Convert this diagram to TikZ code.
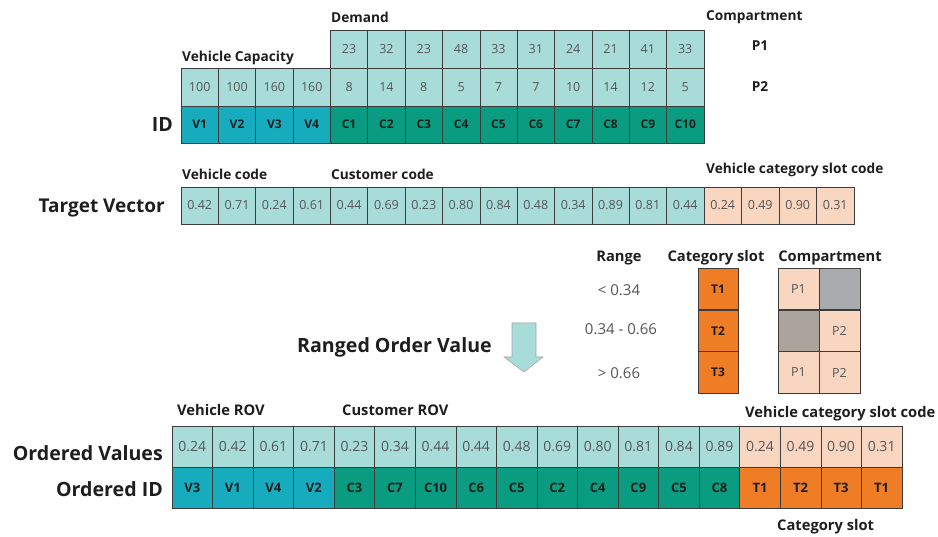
\documentclass[tikz,border=0pt]{standalone}
\usepackage{fontspec}
\setmainfont{Open Sans}
\usepackage{tikz}
\usetikzlibrary{positioning}
\definecolor{cellLight}{RGB}{168, 220, 216}
\definecolor{vehDark}{RGB}{22, 172, 190}
\definecolor{cusDark}{RGB}{10, 156, 128}
\definecolor{slotLight}{RGB}{249, 214, 192}
\definecolor{slotDark}{RGB}{238, 125, 38}
\definecolor{emptyA}{RGB}{168, 172, 175}
\definecolor{emptyB}{RGB}{170, 164, 157}
\definecolor{gridLine}{RGB}{60, 60, 60}
\definecolor{numText}{RGB}{85, 85, 85}
\definecolor{lblText}{RGB}{30, 30, 30}

\begin{document}
\begin{tikzpicture}[x=1pt, y=-1pt,
  cell/.style={draw=gridLine, line width=0.6pt, inner sep=0pt, minimum width=37.35pt,
    minimum height=37.7pt, text=numText, font=\fontsize{12.5}{14}\selectfont},
  idcell/.style={cell, text=lblText, font=\fontsize{12}{14}\selectfont\bfseries},
  bigcell/.style={cell, minimum width=40.55pt, minimum height=41pt, font=\fontsize{14}{16}\selectfont},
  bigid/.style={bigcell, text=lblText, font=\fontsize{13}{15}\selectfont\bfseries},
  lbl/.style={inner sep=0pt, text=lblText, font=\fontsize{13.7}{15}\selectfont\bfseries},
  lbllarge/.style={lbl, font=\fontsize{14.7}{16}\selectfont\bfseries},
  biglbl/.style={inner sep=0pt, text=lblText, font=\fontsize{19.6}{22}\selectfont\bfseries},
  rng/.style={inner sep=0pt, text=numText, font=\fontsize{15}{16}\selectfont}]
  \useasboundingbox (0,0) rectangle (938,537);

  % Input data
  \foreach \v [count=\i] in {100,100,160,160} {
    \node[cell, fill=cellLight] (cap\i) at ({181+37.35*(\i-0.5)}, 87) {\v};
    \node[idcell, fill=vehDark, minimum height=37pt] (vid\i) at ({181+37.35*(\i-0.5)}, 124.5) {V\i};
  }
  \foreach \a/\b [count=\i] in {23/8,32/14,23/8,48/5,33/7,31/7,24/10,21/14,41/12,33/5} {
    \node[cell, fill=cellLight] (dmA\i) at ({330.4+37.35*(\i-0.5)}, 49) {\a};
    \node[cell, fill=cellLight] (dmB\i) at ({330.4+37.35*(\i-0.5)}, 87) {\b};
    \node[idcell, fill=cusDark, minimum height=37pt] (cid\i) at ({330.4+37.35*(\i-0.5)}, 124.5) {C\i};
  }
  \node[lbl, anchor=west] (demand) at (331,17) {Demand};
  \node[lbl, anchor=west] (vcap) at (182,58) {Vehicle Capacity};
  \node[lbl, anchor=west] (comp) at (706,17) {Compartment};
  \node[lbl] (pone) at (760,46) {P1};
  \node[lbl] (ptwo) at (760,87) {P2};
  \node[biglbl, anchor=east] (idlbl) at (173,125) {ID};

  % Target vector
  \foreach \v [count=\i] in {0.42,0.71,0.24,0.61,0.44,0.69,0.23,0.80,0.84,0.48,0.34,0.89,0.81,0.44}
    \node[cell, fill=cellLight, minimum height=37pt] (tv\i) at ({181+37.35*(\i-0.5)}, 205.5) {\v};
  \foreach \v [count=\i] in {0.24,0.49,0.90,0.31}
    \node[cell, fill=slotLight, minimum width=37.5pt, minimum height=37pt] (ts\i) at ({704+37.5*(\i-0.5)}, 205.5) {\v};
  \node[lbl, anchor=west] (vcode) at (182,174) {Vehicle code};
  \node[lbl, anchor=west] (ccode) at (331,174) {Customer code};
  \node[lbl, anchor=west] (scode) at (706,170) {Vehicle category slot code};
  \node[biglbl, anchor=east, font=\fontsize{19}{22}\selectfont\bfseries] (tvlbl) at (165,208) {Target Vector};

  % Range table
  \node[lbllarge] (rhead) at (619,258) {Range};
  \node[lbllarge] (shead) at (716,258) {Category slot};
  \node[lbllarge] (chead) at (830,258) {Compartment};
  \node[rng] (rA) at (619,290) {< 0.34};
  \node[rng] (rB) at (621,329) {0.34 - 0.66};
  \node[rng] (rC) at (619,373) {> 0.66};
  \foreach \y [count=\i] in {289,331,372.5}
    \node[idcell, fill=slotDark, minimum width=40pt, minimum height=41.5pt] (slot\i) at (718,\y) {T\i};
  \node[cell, fill=slotLight, minimum width=41pt, minimum height=41.5pt] (cpA1) at (798.5,289) {P1};
  \node[cell, fill=emptyA, minimum width=41pt, minimum height=41.5pt] (cpA2) at (839.5,289) {};
  \node[cell, fill=emptyB, minimum width=41pt, minimum height=41.5pt] (cpB1) at (798.5,331) {};
  \node[cell, fill=slotLight, minimum width=41pt, minimum height=41.5pt] (cpB2) at (839.5,331) {P2};
  \node[cell, fill=slotLight, minimum width=41pt, minimum height=41.5pt] (cpC1) at (798.5,372.5) {P1};
  \node[cell, fill=slotLight, minimum width=41pt, minimum height=41.5pt] (cpC2) at (839.5,372.5) {P2};

  % Ranged order value
  \node[biglbl, anchor=west] (rov) at (297,347) {Ranged Order Value};
  \draw[fill=cellLight, draw=gray!70, line width=0.6pt]
    (512,323) -- (536,323) -- (536,357) -- (543,357) -- (524,372) -- (504,357) -- (512,357) -- cycle;

  % Ordered result
  \foreach \v/\n [count=\i] in {0.24/V3,0.42/V1,0.61/V4,0.71/V2} {
    \node[bigcell, fill=cellLight] (ov\i) at ({172+40.55*(\i-0.5)}, 446.5) {\v};
    \node[bigid, fill=vehDark] (oi\i) at ({172+40.55*(\i-0.5)}, 487.5) {\n};
  }
  \foreach \v/\n [count=\i from 5] in {0.23/C3,0.34/C7,0.44/C10,0.44/C6,0.48/C5,0.69/C2,0.80/C4,0.81/C9,0.84/C5,0.89/C8} {
    \node[bigcell, fill=cellLight] (ov\i) at ({172+40.55*(\i-0.5)}, 446.5) {\v};
    \node[bigid, fill=cusDark] (oi\i) at ({172+40.55*(\i-0.5)}, 487.5) {\n};
  }
  \foreach \v/\n [count=\i from 15] in {0.24/T1,0.49/T2,0.90/T3,0.31/T1} {
    \node[bigcell, fill=slotLight] (ov\i) at ({172+40.55*(\i-0.5)}, 446.5) {\v};
    \node[bigid, fill=slotDark] (oi\i) at ({172+40.55*(\i-0.5)}, 487.5) {\n};
  }
  \node[lbllarge, anchor=west] (vrov) at (177,410) {Vehicle ROV};
  \node[lbllarge, anchor=west] (crov) at (342,410) {Customer ROV};
  \node[lbllarge, anchor=west] (oscode) at (745,414) {Vehicle category slot code};
  \node[lbllarge, anchor=west] (oslot) at (777,527) {Category slot};
  \node[biglbl, anchor=east] (ovlbl) at (163,453) {Ordered Values};
  \node[biglbl, anchor=east] (oilbl) at (163,489) {Ordered ID};
\end{tikzpicture}
\end{document}
